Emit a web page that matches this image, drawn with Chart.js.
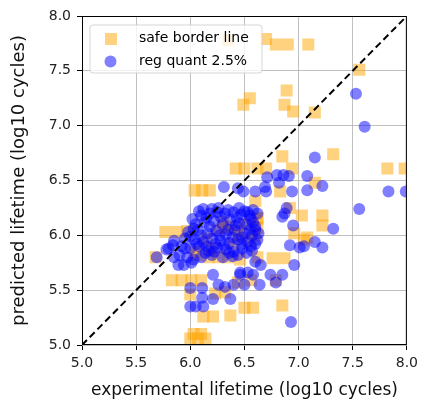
<!DOCTYPE html>
<html>
<head>
<meta charset="utf-8">
<script src="https://cdn.jsdelivr.net/npm/chart.js@4/dist/chart.umd.min.js"></script>
<style>
html,body{margin:0;padding:0;background:#fff;}
#wrap{width:423px;height:401px;position:relative;}
</style>
</head>
<body>
<div id="wrap"><canvas id="c" width="423" height="401"></canvas></div>
<script>
// ---- data ----
const seriesNames = ["safe border line", "reg quant 2.5%"];
const axisTitles = ["experimental lifetime (log10 cycles)", "predicted lifetime (log10 cycles)"];
const tickValues = [5.0, 5.5, 6.0, 6.5, 7.0, 7.5, 8.0];
const diagonal = [[5, 5], [8, 8]];

// safe border line: [experimental, predicted]
const safeBorder = [
  [6.35,7.78],[6.70,7.79],[6.79,7.74],[6.90,7.74],[7.09,7.74],
  [7.56,7.51],
  [6.55,7.25],[6.49,7.19],[6.89,7.32],[6.87,7.19],[6.95,7.13],[7.15,7.12],
  [6.85,6.72],[7.32,6.74],
  [6.42,6.61],[6.50,6.61],[6.62,6.61],[6.70,6.61],[6.94,6.61],[7.82,6.61],[7.98,6.61],
  [7.15,6.48],
  [6.04,6.41],[6.11,6.41],[6.18,6.41],[6.83,6.40],
  [6.60,6.31],[6.92,6.25],[7.03,6.18],[7.22,6.18],[7.22,6.09],[6.62,6.15],
  [6.96,6.02],[7.08,5.98],[7.05,5.96],
  [6.62,6.16],[6.62,6.07],[5.77,6.03],[5.88,6.03],[5.97,6.04],
  [6.25,6.05],[6.30,6.12],[6.15,5.97],[6.45,6.00],[6.40,5.92],[6.55,5.95],[6.60,6.00],
  [6.20,5.88],[6.05,5.85],[6.35,6.08],[6.50,6.10],[6.32,6.07],[6.44,6.04],
  [5.68,5.80],[6.06,5.82],[6.17,5.80],[6.26,5.80],[6.35,5.80],[6.46,5.78],
  [6.62,5.80],[6.76,5.79],[6.87,5.79],
  [5.83,5.59],[5.92,5.59],[6.01,5.59],[6.10,5.59],
  [6.44,5.57],[6.56,5.59],[6.79,5.59],
  [6.00,5.46],[6.23,5.47],[6.32,5.48],
  [6.12,5.26],[6.21,5.26],[6.37,5.27],
  [6.50,5.34],[6.58,5.34],[6.85,5.36],
  [6.00,5.06],[6.07,5.06],[6.14,5.06],[6.03,5.10],[6.10,5.10]
];

// reg quant 2.5%: [experimental, predicted]
const regQuant = [
  [7.53,7.29],[7.61,6.99],
  [7.15,6.71],
  [6.71,6.53],[6.80,6.55],[6.86,6.55],[6.91,6.54],[7.08,6.54],
  [6.69,6.44],[6.82,6.48],[7.22,6.45],
  [6.31,6.44],[6.44,6.43],[6.49,6.40],[6.60,6.40],[6.70,6.40],[6.94,6.40],[7.08,6.41],[7.83,6.40],[7.99,6.40],
  [7.56,6.24],[6.53,6.21],[6.89,6.25],[6.85,6.17],[6.87,6.20],
  [6.95,6.09],[7.32,6.06],[6.60,6.05],
  [6.92,5.91],[7.01,5.89],[7.15,5.94],[7.22,5.89],[7.05,5.90],
  [6.96,5.73],[6.74,5.64],[6.85,5.64],[6.79,5.57],
  [6.60,5.76],[6.65,5.73],
  [6.46,5.66],[6.53,5.66],[6.58,5.64],
  [6.50,5.55],[6.64,5.55],
  [6.21,5.64],[6.26,5.55],[6.32,5.53],[6.40,5.55],[6.46,5.64],
  [6.00,5.52],[6.11,5.52],
  [6.00,5.35],[6.05,5.35],[6.12,5.35],
  [6.11,5.43],[6.21,5.42],[6.37,5.42],
  [6.93,5.21],
  [5.69,5.80],[5.78,5.87],[5.85,5.80],[5.89,5.73],[5.94,5.73],[6.01,5.75],[5.95,5.88],[5.84,5.91],
  [5.85,5.95],[5.92,5.90],[5.80,5.88],
  [6.10,6.18],[6.18,6.20],[6.25,6.21],[6.32,6.20],[6.40,6.21],[6.47,6.19],[6.55,6.18],[6.58,6.12],
  [6.05,6.10],[6.13,6.12],[6.22,6.13],[6.30,6.10],[6.37,6.14],[6.45,6.11],[6.52,6.10],[6.60,6.08],
  [5.98,6.03],[6.07,6.05],[6.16,6.02],[6.24,6.04],[6.33,6.01],[6.41,6.05],[6.50,6.02],[6.57,6.00],
  [5.95,5.97],[6.04,5.96],[6.12,5.94],[6.20,5.97],[6.28,5.95],[6.36,5.93],[6.44,5.96],[6.53,5.94],[6.62,5.96],
  [6.00,5.88],[6.08,5.90],[6.17,5.86],[6.25,5.89],[6.33,5.87],[6.40,5.85],[6.48,5.88],[6.57,5.86],
  [6.10,5.80],[6.20,5.82],[6.30,5.80],[6.39,5.81],
  [6.02,6.15],[6.08,6.22],[6.15,6.16],[6.20,6.24],[6.28,6.17],[6.35,6.23],[6.43,6.16],[6.50,6.22],[6.56,6.15],[6.62,6.20],
  [6.03,6.06],[6.10,6.00],[6.18,6.08],[6.27,6.00],[6.35,6.05],[6.42,6.09],[6.48,5.98],[6.55,6.05],[6.63,6.02],
  [6.00,5.99],[6.06,5.92],[6.15,5.90],[6.23,5.92],[6.31,5.91],[6.39,5.98],[6.47,5.92],[6.56,5.90],[6.60,5.92],
  [5.90,5.82],[5.97,5.80],[6.03,5.78],[6.14,5.84],[6.22,5.85],[6.36,5.84],[6.44,5.82],[6.52,5.84],
  [6.12,6.24],[6.26,6.25],[6.45,6.25],[6.58,6.23]
];

// ---- styles ----
const ORANGE = 'rgba(255,165,0,0.5)';
const BLUE = 'rgba(0,0,255,0.5)';
const toXY = arr => arr.map(p => ({x: p[0], y: p[1]}));

const frameAndLegend = {
  id: 'frameAndLegend',
  afterDatasetsDraw(chart) {
    const {ctx, chartArea: a} = chart;
    ctx.save();
    ctx.strokeStyle = '#000';
    ctx.lineWidth = 1;
    ctx.strokeRect(a.left + 0.5, a.top + 0.5, a.right - a.left - 1, a.bottom - a.top - 1);
    // legend box
    const bx = 90, by = 25, bw = 172, bh = 48, r = 3;
    ctx.beginPath();
    ctx.moveTo(bx + r, by);
    ctx.arcTo(bx + bw, by, bx + bw, by + bh, r);
    ctx.arcTo(bx + bw, by + bh, bx, by + bh, r);
    ctx.arcTo(bx, by + bh, bx, by, r);
    ctx.arcTo(bx, by, bx + bw, by, r);
    ctx.closePath();
    ctx.fillStyle = 'rgba(255,255,255,0.8)';
    ctx.fill();
    ctx.strokeStyle = 'rgba(204,204,204,0.8)';
    ctx.stroke();
    ctx.fillStyle = ORANGE;
    ctx.fillRect(105, 33, 12, 12);
    ctx.fillStyle = BLUE;
    ctx.beginPath();
    ctx.arc(110.5, 61.5, 6, 0, Math.PI * 2);
    ctx.fill();
    ctx.fillStyle = '#000';
    ctx.font = '14px "DejaVu Sans"';
    ctx.textBaseline = 'middle';
    ctx.textAlign = 'left';
    ctx.fillText(seriesNames[0], 139, 38.5);
    ctx.fillText(seriesNames[1], 139, 61.5);
    ctx.restore();
  }
};

const tickFont = {family: 'DejaVu Sans', size: 14};

new Chart(document.getElementById('c'), {
  data: {
    datasets: [
      {
        type: 'line', label: 'diag', data: toXY(diagonal),
        borderColor: '#000', borderWidth: 2, borderDash: [7, 4],
        pointRadius: 0, fill: false, order: 0
      },
      {
        type: 'scatter', label: seriesNames[1], data: toXY(regQuant),
        backgroundColor: BLUE, borderWidth: 0, pointRadius: 6, pointStyle: 'circle', order: 1
      },
      {
        type: 'scatter', label: seriesNames[0], data: toXY(safeBorder),
        backgroundColor: ORANGE, borderWidth: 0, pointRadius: 8.5, pointStyle: 'rect', order: 2
      }
    ]
  },
  options: {
    responsive: false,
    animation: false,
    devicePixelRatio: 1,
    layout: {padding: {top: 16, right: 12, left: 0, bottom: 0}},
    plugins: {legend: {display: false}, tooltip: {enabled: false}},
    scales: {
      x: {
        type: 'linear', min: 5, max: 8,
        afterBuildTicks: s => { s.ticks = tickValues.map(v => ({value: v})); },
        afterFit: s => { s.height = 56; },
        ticks: {font: tickFont, color: '#222', padding: 5, callback: v => v.toFixed(1), maxRotation: 0},
        grid: {color: 'rgba(176,176,176,0.8)', lineWidth: 1, tickColor: '#000', tickLength: 5},
        border: {display: false},
        title: {display: true, text: axisTitles[0], font: {family: 'DejaVu Sans', size: 17}, color: '#111', padding: {top: 0, bottom: 0}}
      },
      y: {
        type: 'linear', min: 5, max: 8,
        afterBuildTicks: s => { s.ticks = tickValues.map(v => ({value: v})); },
        afterFit: s => { s.width = 82; },
        ticks: {font: tickFont, color: '#222', padding: 6, callback: v => v.toFixed(1)},
        grid: {color: 'rgba(176,176,176,0.8)', lineWidth: 1, tickColor: '#000', tickLength: 5},
        border: {display: false},
        title: {display: true, text: axisTitles[1], font: {family: 'DejaVu Sans', size: 18}, color: '#111', padding: {top: 9, bottom: 0}}
      }
    }
  },
  plugins: [frameAndLegend]
});
</script>
</body>
</html>
